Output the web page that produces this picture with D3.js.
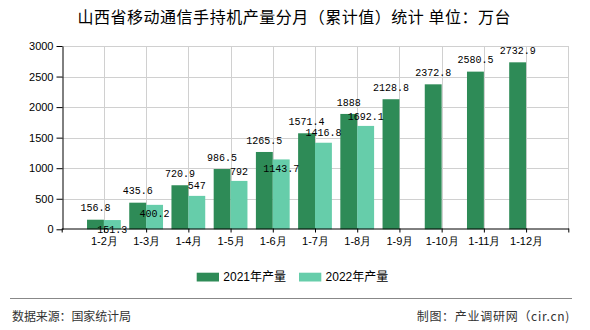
<!DOCTYPE html>
<html>
<head>
<meta charset="utf-8">
<script src="https://cdn.jsdelivr.net/npm/d3@7/dist/d3.min.js"></script>
<style>
  html, body { margin: 0; padding: 0; background: #fff; }
  svg { display: block; }
</style>
</head>
<body>
<svg id="chart" width="590" height="330"></svg>
<script>
// Monthly cumulative output of handsets, Shanxi (unit: 10k units)
const categories = ["1-2月", "1-3月", "1-4月", "1-5月", "1-6月", "1-7月", "1-8月", "1-9月", "1-10月", "1-11月", "1-12月"];
const series2021 = [156.8, 435.6, 720.9, 986.5, 1265.5, 1571.4, 1888, 2128.8, 2372.8, 2580.5, 2732.9];
const series2022 = [151.3, 400.2, 547, 792, 1143.7, 1416.8, 1692.1];
const seriesNames = ["2021年产量", "2022年产量"];
const seriesColors = ["#2e8b57", "#66cdaa"];
const yTicks = [0, 500, 1000, 1500, 2000, 2500, 3000];

const svg = d3.select("#chart");
const plot = { left: 61.7, right: 568.3, top: 46, bottom: 229.3 };

// Category positions sit on ticks 1..11 of a 12-interval axis
const x = d3.scaleLinear().domain([0, categories.length + 1]).range([plot.left, plot.right]);
const y = d3.scaleLinear().domain([0, 3000]).range([plot.bottom, plot.top]);
const step = x(1) - x(0);
const barW = step * 0.4;

// Title
svg.append("text")
  .attr("x", 294).attr("y", 17.5).attr("dy", "0.36em")
  .attr("text-anchor", "middle")
  .attr("font-family", "'Noto Sans CJK SC', sans-serif")
  .attr("font-size", 16)
  .attr("fill", "#000")
  .attr("textLength", 433).attr("lengthAdjust", "spacing")
  .text("山西省移动通信手持机产量分月（累计值）统计 单位：万台");

// Grid
const grid = svg.append("g").attr("stroke", "#d0d0d0").attr("stroke-width", 1);
grid.selectAll("line.h").data(yTicks.filter(d => d > 0)).join("line")
  .attr("x1", plot.left).attr("x2", plot.right)
  .attr("y1", d => Math.round(y(d)) + 0.5).attr("y2", d => Math.round(y(d)) + 0.5);
grid.selectAll("line.v").data(d3.range(1, categories.length + 2)).join("line")
  .attr("x1", d => Math.round(x(d)) + 0.5).attr("x2", d => Math.round(x(d)) + 0.5)
  .attr("y1", plot.top).attr("y2", plot.bottom);

// Bars
const bars = svg.append("g");
bars.selectAll("rect.s21").data(series2021).join("rect")
  .attr("x", (d, i) => x(i + 1) - barW)
  .attr("y", d => y(d))
  .attr("width", barW)
  .attr("height", d => y(0) - y(d))
  .attr("fill", seriesColors[0]);
bars.selectAll("rect.s22").data(series2022).join("rect")
  .attr("x", (d, i) => x(i + 1))
  .attr("y", d => y(d))
  .attr("width", barW)
  .attr("height", d => y(0) - y(d))
  .attr("fill", seriesColors[1]);

// Axes
const yAxis = d3.axisLeft(y).tickValues(yTicks).tickFormat(d3.format("d"))
  .tickSize(6).tickSizeOuter(0).tickPadding(3);
const yg = svg.append("g").attr("transform", `translate(${Math.round(plot.left) + 0.5},0)`).call(yAxis);
yg.select(".domain").attr("stroke", "#000");
yg.selectAll(".tick line").attr("stroke", "#000");
yg.selectAll(".tick text")
  .attr("font-family", "'Liberation Sans', Arial, sans-serif")
  .attr("font-size", 11).attr("fill", "#000");

const xAxis = d3.axisBottom(x)
  .tickValues(d3.range(0, categories.length + 2))
  .tickFormat(i => categories[i - 1] || "")
  .tickSize(4).tickSizeOuter(0).tickPadding(5);
const xg = svg.append("g").attr("transform", `translate(0,${Math.round(plot.bottom) - 0.5})`).call(xAxis);
xg.select(".domain").attr("stroke", "#000");
xg.selectAll(".tick line").attr("stroke", "#000");
xg.selectAll(".tick text")
  .attr("font-family", "'Liberation Sans', sans-serif")
  .attr("font-size", 11).attr("fill", "#000");

// Value labels
const labelFont = "'Liberation Mono', 'DejaVu Sans Mono', monospace";
const fmt = d => String(d);
const lab21 = series2021.map((d, i) => ({ v: d, cx: x(i + 1) - barW / 2, cy: y(d) - 12 }));
const lab22 = series2022.map((d, i) => {
  const cx = x(i + 1) + barW / 2;
  let cy = y(d) - 10;
  const o = lab21[i];
  // push down inside the bar when it would collide with the neighbouring label
  if (Math.abs(cy - o.cy) < 11) cy = y(d) + 9;
  return { v: d, cx, cy };
});
const labels = svg.append("g")
  .attr("font-family", labelFont).attr("font-size", 10).attr("fill", "#000")
  .attr("text-anchor", "middle");
labels.selectAll("text.l21").data(lab21).join("text")
  .attr("x", d => d.cx).attr("y", d => d.cy).attr("dy", "0.36em").text(d => fmt(d.v));
labels.selectAll("text.l22").data(lab22).join("text")
  .attr("x", d => d.cx).attr("y", d => d.cy).attr("dy", "0.36em").text(d => fmt(d.v));

// Legend
const legend = svg.append("g");
const legX = [196.7, 299];
seriesNames.forEach((name, i) => {
  legend.append("rect")
    .attr("x", legX[i]).attr("y", 272.7).attr("width", 22.3).attr("height", 8.8)
    .attr("fill", seriesColors[i]);
  legend.append("text")
    .attr("x", legX[i] + 26.6).attr("y", 277).attr("dy", "0.36em")
    .attr("font-family", "'Liberation Sans', 'Noto Sans CJK SC', sans-serif")
    .attr("font-size", 12).attr("fill", "#000")
    .text(name);
});

// Footer
svg.append("line")
  .attr("x1", 10).attr("x2", 572).attr("y1", 298.5).attr("y2", 298.5)
  .attr("stroke", "#888").attr("stroke-width", 1);
svg.append("text")
  .attr("x", 12).attr("y", 316.5).attr("dy", "0.36em")
  .attr("font-family", "'Noto Sans CJK SC', sans-serif")
  .attr("font-size", 12).attr("fill", "#333")
  .attr("textLength", 119).attr("lengthAdjust", "spacing")
  .text("数据来源：国家统计局");
svg.append("text")
  .attr("x", 416.7).attr("y", 316.5).attr("dy", "0.36em")
  .attr("font-family", "'Noto Sans CJK SC', sans-serif")
  .attr("font-size", 12).attr("fill", "#333")
  .attr("textLength", 152.6).attr("lengthAdjust", "spacing")
  .text("制图：产业调研网（cir.cn)");
</script>
</body>
</html>
